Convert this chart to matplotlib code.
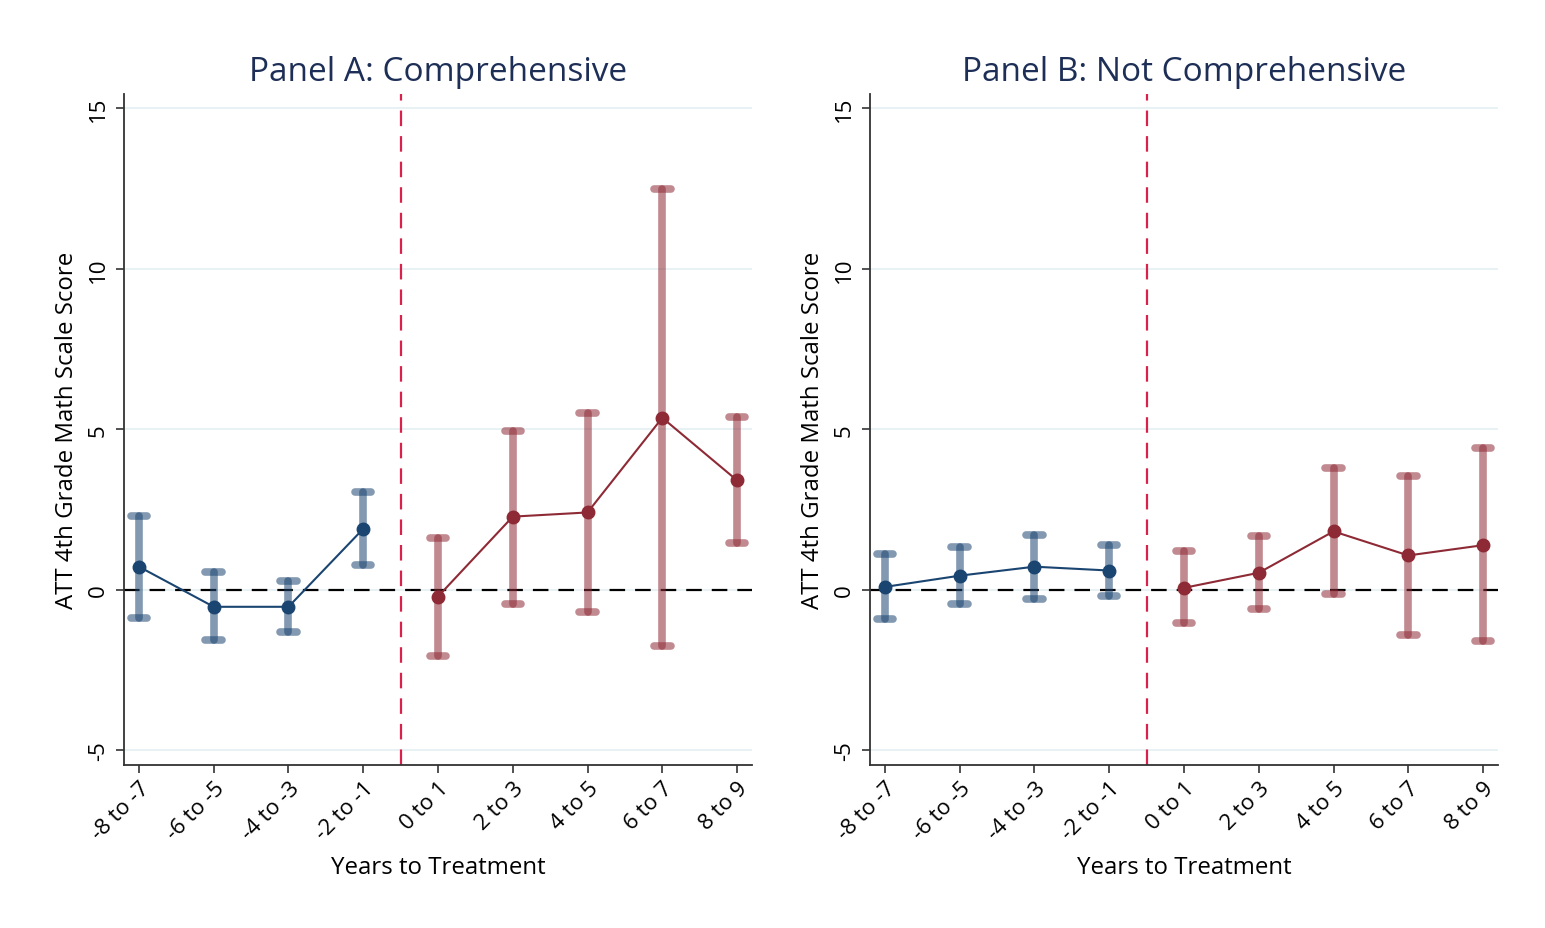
import matplotlib
matplotlib.use("Agg")
import matplotlib.pyplot as plt
import numpy as np

plt.rcParams['font.family'] = ['Open Sans', 'DejaVu Sans']

categories = ["-8 to -7", "-6 to -5", "-4 to -3", "-2 to -1",
              "0 to 1", "2 to 3", "4 to 5", "6 to 7", "8 to 9"]
n_pre = 4

# Panel A: Comprehensive
a_est = [0.72, -0.53, -0.53, 1.90, -0.21, 2.28, 2.41, 5.36, 3.41]
a_lo = [-0.87, -1.56, -1.31, 0.78, -2.06, -0.44, -0.69, -1.75, 1.47]
a_hi = [2.31, 0.54, 0.28, 3.06, 1.62, 4.96, 5.52, 12.49, 5.39]

# Panel B: Not Comprehensive
b_est = [0.09, 0.44, 0.72, 0.60, 0.06, 0.53, 1.82, 1.07, 1.39]
b_lo = [-0.91, -0.44, -0.28, -0.18, -1.04, -0.60, -0.12, -1.40, -1.60]
b_hi = [1.10, 1.34, 1.72, 1.41, 1.20, 1.69, 3.78, 3.56, 4.43]

titles = ["Panel A: Comprehensive", "Panel B: Not Comprehensive"]
yticks = [-5, 0, 5, 10, 15]
ylabel = "ATT 4th Grade Math Scale Score"
xlabel = "Years to Treatment"

blue = "#1b4571"
red = "#8e2a35"
title_col = "#1e2f57"
vline_col = "#d8224b"
grid_col = "#e6f0f2"

W, H = 1545, 929
fig = plt.figure(figsize=(W / 100, H / 100), dpi=100)

axes_px = [(124, 752), (870, 1498)]
top_px, bot_px = 95, 766

for (x0, x1), title, est, lo, hi in zip(axes_px, titles,
                                        [a_est, b_est], [a_lo, b_lo], [a_hi, b_hi]):
    ax = fig.add_axes([x0 / W, (H - bot_px) / H, (x1 - x0) / W, (bot_px - top_px) / H])
    x = np.arange(len(categories))
    est = np.array(est); lo = np.array(lo); hi = np.array(hi)
    ax.set_xlim(-0.2, len(categories) - 1 + 0.2)
    ax.set_ylim(-5.46, 15.45)
    for yv in yticks:
        ax.axhline(yv, color=grid_col, lw=1.3, zorder=0)
    ax.axhline(0, color="black", lw=1.6, ls=(0, (7, 4.5)), zorder=1)
    ax.axvline(n_pre - 0.5, color=vline_col, lw=1.6, ls=(0, (7, 4.5)), zorder=1)

    for seg, col in [(slice(0, n_pre), blue), (slice(n_pre, None), red)]:
        xs = x[seg]
        ax.vlines(xs, lo[seg], hi[seg], color=col, alpha=0.55, lw=5.5,
                  capstyle='round', zorder=2)
        cw = 0.11
        for xi, l, h in zip(xs, lo[seg], hi[seg]):
            for yv in (l, h):
                ax.plot([xi - cw, xi + cw], [yv, yv], color=col, alpha=0.55,
                        lw=5.5, solid_capstyle='round', zorder=2)
        ax.plot(xs, est[seg], color=col, lw=1.5, marker='o', markersize=9,
                zorder=3)

    ax.set_xticks(x)
    ax.set_xticklabels(categories, rotation=45, ha='right', va='top',
                       rotation_mode='anchor', fontsize=16)
    ax.set_yticks(yticks)
    ax.set_yticklabels([str(v) for v in yticks], rotation=90, va='center',
                       fontsize=16)
    ax.tick_params(axis='both', length=6, width=1.2, color="#333333")
    ax.tick_params(axis='x', pad=3)
    ax.tick_params(axis='y', pad=5)
    for s in ['top', 'right']:
        ax.spines[s].set_visible(False)
    for s in ['left', 'bottom']:
        ax.spines[s].set_linewidth(1.3)
        ax.spines[s].set_color("#333333")
    ax.set_ylabel(ylabel, fontsize=17.3, labelpad=6)
    ax.set_xlabel(xlabel, fontsize=17.3, labelpad=8)
    ax.set_title(title, fontsize=24, color=title_col, pad=10)

fig.savefig("out.png", dpi=100, facecolor="white")
